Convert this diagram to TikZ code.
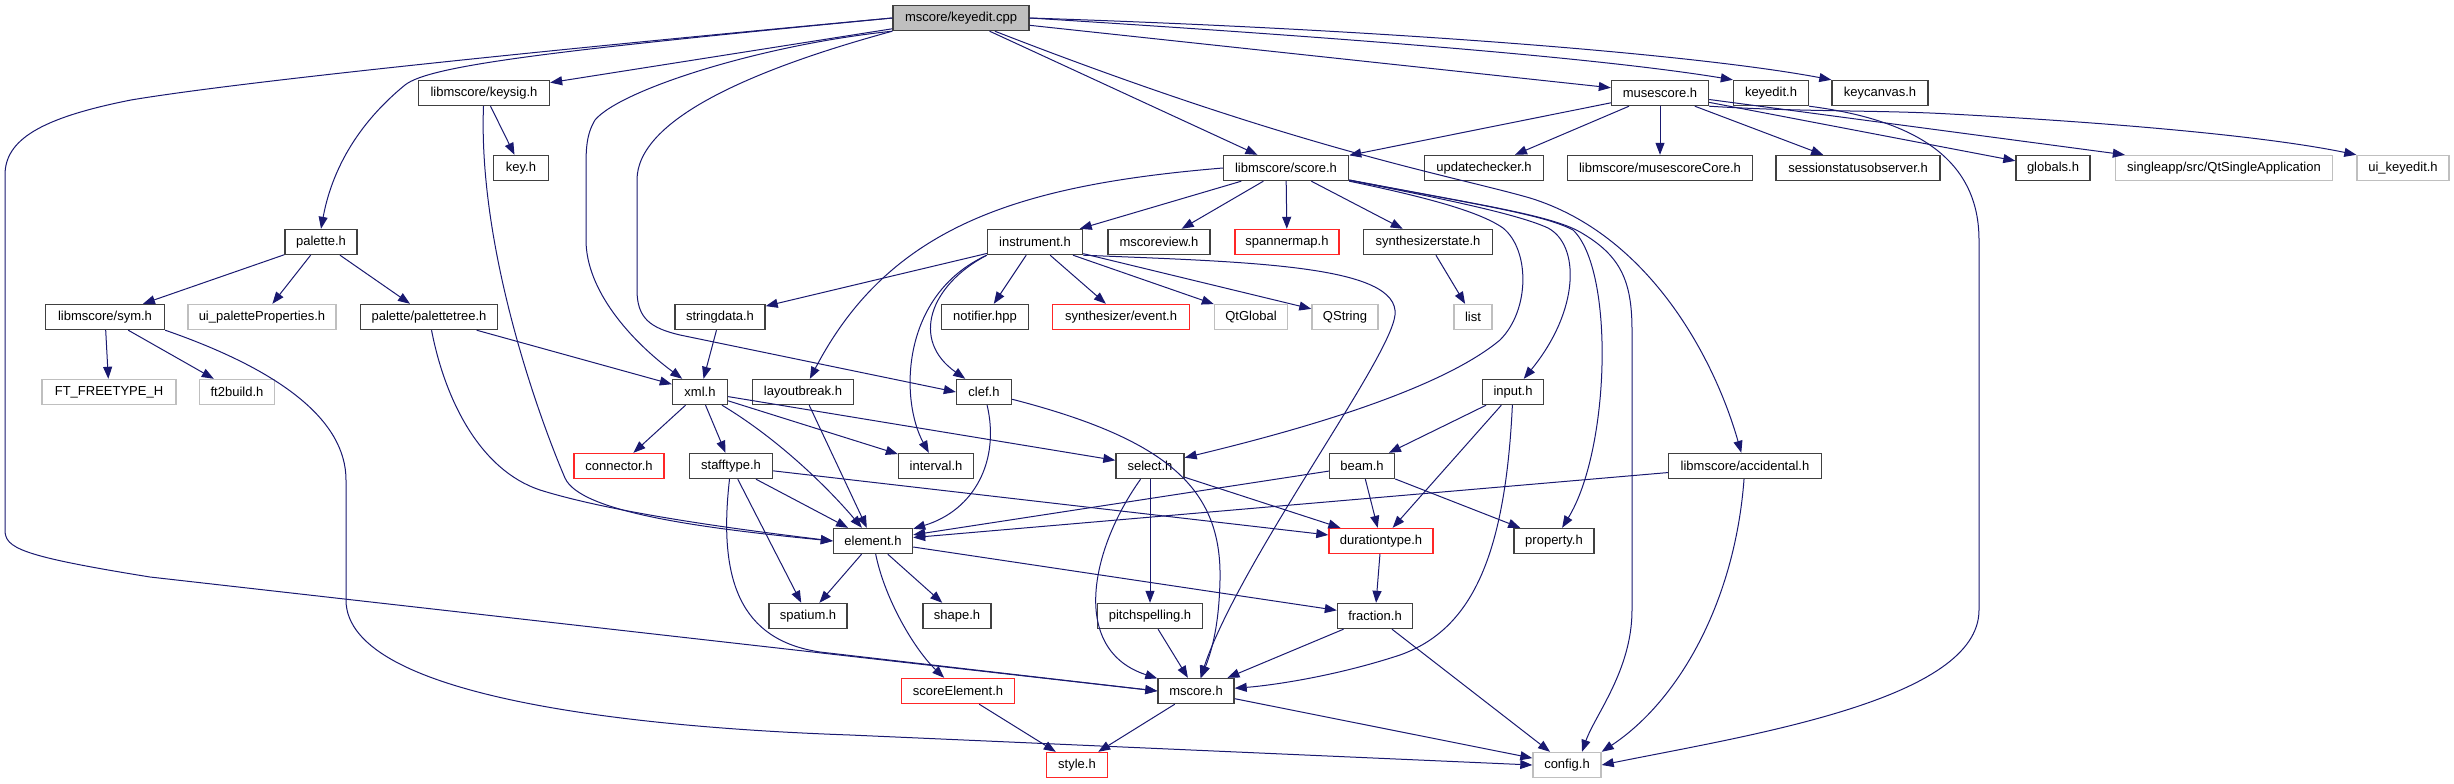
\documentclass[tikz,border=0pt]{standalone}
\usepackage{fontspec}
\setmainfont{Liberation Sans}
\usetikzlibrary{arrows.meta}
\definecolor{edgeblue}{HTML}{191970}

\begin{document}
\begin{tikzpicture}[x=1pt, y=-1pt,
    font=\fontsize{13}{15}\selectfont,
    hbox/.style={draw=black!75, line width=1.4pt, fill=white, minimum height=25pt, inner sep=0pt},
    hboxred/.style={hbox, draw=red!85},
    hboxgray/.style={hbox, draw=black!25},
    rootbox/.style={hbox, fill=black!25},
    dep/.style={draw=edgeblue, line width=1pt, -{Triangle[length=12pt,width=9pt]}}]
      \useasboundingbox (0,0) rectangle (2454,784);
      %
      % headers, row by row
      \node[rootbox, minimum width=136pt] (keyeditcpp) at (961,18) {mscore/keyedit.cpp};
      \node[hbox, minimum width=131pt] (keysig) at (484,93) {libmscore/keysig.h};
      \node[hbox, minimum width=97pt] (musescore) at (1660,93) {musescore.h};
      \node[hbox, minimum width=75pt] (keyedith) at (1771,93) {keyedit.h};
      \node[hbox, minimum width=96pt] (keycanvas) at (1880,93) {keycanvas.h};
      \node[hbox, minimum width=55pt] (keyh) at (521,168) {key.h};
      \node[hbox, minimum width=125pt] (score) at (1286,168) {libmscore/score.h};
      \node[hbox, minimum width=119pt] (updatechecker) at (1484,168) {updatechecker.h};
      \node[hbox, minimum width=185pt] (musescorecore) at (1660,168) {libmscore/musescoreCore.h};
      \node[hbox, minimum width=164pt] (sessionstatus) at (1858,168) {sessionstatusobserver.h};
      \node[hbox, minimum width=74pt] (globals) at (2053,168) {globals.h};
      \node[hboxgray, minimum width=217pt] (qtsingle) at (2224,168) {singleapp/src/QtSingleApplication};
      \node[hboxgray, minimum width=92pt] (uikeyedit) at (2403,168) {ui\_keyedit.h};
      \node[hbox, minimum width=72pt] (palette) at (321,242) {palette.h};
      \node[hbox, minimum width=95pt] (instrument) at (1035,242) {instrument.h};
      \node[hbox, minimum width=102pt] (mscoreview) at (1159,242) {mscoreview.h};
      \node[hboxred, minimum width=104pt] (spannermap) at (1287,242) {spannermap.h};
      \node[hbox, minimum width=129pt] (synthstate) at (1428,242) {synthesizerstate.h};
      \node[hbox, minimum width=119pt] (sym) at (105,317) {libmscore/sym.h};
      \node[hboxgray, minimum width=148pt] (uipaletteprop) at (262,317) {ui\_paletteProperties.h};
      \node[hbox, minimum width=137pt] (palettetree) at (429,317) {palette/palettetree.h};
      \node[hbox, minimum width=90pt] (stringdata) at (720,317) {stringdata.h};
      \node[hbox, minimum width=87pt] (notifier) at (985,317) {notifier.hpp};
      \node[hboxred, minimum width=137pt] (event) at (1121,317) {synthesizer/event.h};
      \node[hboxgray, minimum width=73pt] (qtglobal) at (1251,317) {QtGlobal};
      \node[hboxgray, minimum width=66pt] (qstring) at (1345,317) {QString};
      \node[hboxgray, minimum width=38pt] (list) at (1473,317) {list};
      \node[hboxgray, minimum width=134pt] (freetype) at (109,392) {FT\_FREETYPE\_H};
      \node[hboxgray, minimum width=75pt] (ft2build) at (237,392) {ft2build.h};
      \node[hbox, minimum width=55pt] (xml) at (700,392) {xml.h};
      \node[hbox, minimum width=101pt] (layoutbreak) at (803,392) {layoutbreak.h};
      \node[hbox, minimum width=55pt] (clef) at (984,392) {clef.h};
      \node[hbox, minimum width=61pt] (input) at (1513,392) {input.h};
      \node[hboxred, minimum width=90pt] (connector) at (619,466) {connector.h};
      \node[hbox, minimum width=83pt] (stafftype) at (731,466) {stafftype.h};
      \node[hbox, minimum width=75pt] (interval) at (936,466) {interval.h};
      \node[hbox, minimum width=68pt] (select) at (1150,466) {select.h};
      \node[hbox, minimum width=65pt] (beam) at (1362,466) {beam.h};
      \node[hbox, minimum width=153pt] (accidental) at (1745,466) {libmscore/accidental.h};
      \node[hbox, minimum width=79pt] (element) at (873,541) {element.h};
      \node[hboxred, minimum width=104pt] (durationtype) at (1381,541) {durationtype.h};
      \node[hbox, minimum width=80pt] (property) at (1554,541) {property.h};
      \node[hbox, minimum width=78pt] (spatium) at (808,616) {spatium.h};
      \node[hbox, minimum width=68pt] (shape) at (957,616) {shape.h};
      \node[hbox, minimum width=105pt] (pitchspelling) at (1150,616) {pitchspelling.h};
      \node[hbox, minimum width=75pt] (fraction) at (1375,616) {fraction.h};
      \node[hboxred, minimum width=113pt] (scoreelement) at (958,691) {scoreElement.h};
      \node[hbox, minimum width=76pt] (mscore) at (1196,691) {mscore.h};
      \node[hboxred, minimum width=61pt] (style) at (1077,765) {style.h};
      \node[hboxgray, minimum width=68pt] (config) at (1567,765) {config.h};
      %
      % mscore/keyedit.cpp
      \draw[dep] (keyeditcpp.west) .. controls (600,45) and (250,80) .. (131,100)
        .. controls (40,118) and (5,140) .. (5,175) -- (5,530)
        .. controls (5,548) and (20,556) .. (150,577) -- (mscore.west);
      \draw[dep] (keyeditcpp.west) .. controls (560,50) and (430,65) .. (405,85)
        .. controls (350,130) and (330,180) .. (palette.north);
      \draw[dep] (keyeditcpp) -- (keysig);
      \draw[dep] (keyeditcpp.south west) .. controls (760,45) and (620,90) .. (595,120)
        .. controls (586,135) and (586,150) .. (586,170) -- (586,240)
        .. controls (586,290) and (630,340) .. (xml);
      \draw[dep] (keyeditcpp.south west) .. controls (750,70) and (637,120) .. (637,180) -- (637,290)
        .. controls (637,318) and (650,328) .. (680,335) -- (clef.west);
      \draw[dep] (keyeditcpp) -- (score);
      \draw[dep] (keyeditcpp) .. controls (1300,150) and (1450,175) .. (1530,198)
        .. controls (1650,235) and (1715,360) .. (accidental);
      \draw[dep] (keyeditcpp) -- (musescore);
      \draw[dep] (keyeditcpp.east) .. controls (1350,38) and (1600,58) .. (keyedith.north west);
      \draw[dep] (keyeditcpp.east) .. controls (1400,30) and (1700,55) .. (keycanvas.north west);
      %
      % left branch
      \draw[dep] (keysig) -- (keyh);
      \draw[dep] (keysig) .. controls (478,250) and (540,420) .. (565,478)
        .. controls (580,512) and (700,528) .. (element.west);
      \draw[dep] (palette) -- (sym);
      \draw[dep] (palette) -- (uipaletteprop);
      \draw[dep] (palette) -- (palettetree);
      \draw[dep] (sym) -- (freetype);
      \draw[dep] (sym) -- (ft2build);
      \draw[dep] (sym.south east) .. controls (280,370) and (346,420) .. (346,480) -- (346,600)
        .. controls (346,700) and (650,728) .. (850,735) -- (config.west);
      \draw[dep] (palettetree) -- (xml);
      \draw[dep] (palettetree) .. controls (445,400) and (480,470) .. (540,490)
        .. controls (620,515) and (760,532) .. (element.west);
      \draw[dep] (stringdata) -- (xml);
      \draw[dep] (xml) -- (connector);
      \draw[dep] (xml) -- (stafftype);
      \draw[dep] (xml) .. controls (780,440) and (830,490) .. (element);
      \draw[dep] (xml) -- (interval);
      \draw[dep] (xml) -- (select);
      \draw[dep] (layoutbreak) -- (element);
      \draw[dep] (clef) .. controls (1000,460) and (975,510) .. (element);
      \draw[dep] (clef) .. controls (1170,440) and (1222,490) .. (1220,580)
        .. controls (1219,625) and (1212,650) .. (mscore);
      \draw[dep] (stafftype) -- (element);
      \draw[dep] (stafftype) -- (spatium);
      \draw[dep] (stafftype) .. controls (718,580) and (740,640) .. (820,652) -- (mscore.west);
      \draw[dep] (stafftype) -- (durationtype);
      %
      % libmscore/score.h and instrument.h
      \draw[dep] (score) -- (instrument);
      \draw[dep] (score) -- (mscoreview);
      \draw[dep] (score) -- (spannermap);
      \draw[dep] (score) -- (synthstate);
      \draw[dep] (score.west) .. controls (1020,185) and (890,225) .. (layoutbreak);
      \draw[dep] (score) .. controls (1430,198) and (1480,212) .. (1503,228)
        .. controls (1530,250) and (1530,310) .. (1500,340)
        .. controls (1440,390) and (1300,430) .. (select);
      \draw[dep] (score) .. controls (1450,200) and (1520,215) .. (1548,228)
        .. controls (1580,245) and (1580,310) .. (input);
      \draw[dep] (score) .. controls (1480,205) and (1545,215) .. (1573,230)
        .. controls (1615,270) and (1610,450) .. (property);
      \draw[dep] (score) .. controls (1480,205) and (1550,215) .. (1580,232)
        .. controls (1620,255) and (1632,280) .. (1632,330) -- (1632,610)
        .. controls (1632,670) and (1595,715) .. ([xshift=15pt]config.north);
      \draw[dep] (instrument) -- (stringdata);
      \draw[dep] (instrument) -- (notifier);
      \draw[dep] (instrument) -- (event);
      \draw[dep] (instrument) -- (qtglobal);
      \draw[dep] (instrument) -- (qstring);
      \draw[dep] (instrument.south west) .. controls (930,285) and (910,340) .. (clef);
      \draw[dep] (instrument.south west) .. controls (900,295) and (900,400) .. (interval);
      \draw[dep] (instrument.south east) .. controls (1250,262) and (1400,265) .. (1395,315)
        .. controls (1390,360) and (1240,560) .. (mscore);
      \draw[dep] (synthstate) -- (list);
      %
      % musescore.h and keyedit.h
      \draw[dep] (musescore) -- (score);
      \draw[dep] (musescore) -- (updatechecker);
      \draw[dep] (musescore) -- (musescorecore);
      \draw[dep] (musescore) -- (sessionstatus);
      \draw[dep] (musescore) -- (globals);
      \draw[dep] (musescore) -- (qtsingle);
      \draw[dep] (musescore.south east) .. controls (1800,112) and (1880,110) .. (1950,114)
        .. controls (2100,122) and (2260,135) .. (uikeyedit.north west);
      \draw[dep] (keyedith.south east) .. controls (1900,118) and (1979,150) .. (1979,240) -- (1979,610)
        .. controls (1979,700) and (1750,735) .. (config.east);
      %
      % lower part
      \draw[dep] (input) -- (beam);
      \draw[dep] (input) -- (durationtype);
      \draw[dep] (input) .. controls (1505,560) and (1470,630) .. (1400,655)
        .. controls (1330,678) and (1265,686) .. (mscore);
      \draw[dep] (beam) -- (element);
      \draw[dep] (beam) -- (durationtype);
      \draw[dep] (beam) -- (property);
      \draw[dep] (accidental) -- (element);
      \draw[dep] (accidental) .. controls (1735,600) and (1680,700) .. (config.north east);
      \draw[dep] (select) .. controls (1090,550) and (1070,650) .. (mscore);
      \draw[dep] (select) -- (pitchspelling);
      \draw[dep] (select) -- (durationtype);
      \draw[dep] (durationtype) -- (fraction);
      \draw[dep] (element) -- (spatium);
      \draw[dep] (element) -- (shape);
      \draw[dep] (element) .. controls (885,600) and (915,650) .. (scoreelement);
      \draw[dep] (element) -- (fraction);
      \draw[dep] (pitchspelling) -- (mscore);
      \draw[dep] (fraction) -- (mscore);
      \draw[dep] (fraction) -- (config);
      \draw[dep] (scoreelement) -- (style);
      \draw[dep] (mscore) -- (style);
      \draw[dep] (mscore) -- (config);
\end{tikzpicture}
\end{document}
